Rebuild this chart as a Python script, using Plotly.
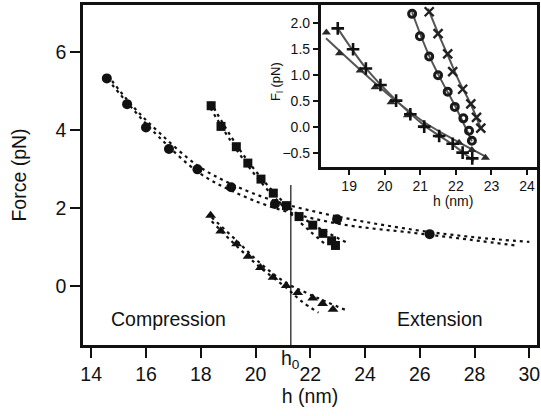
import plotly.graph_objects as go

# ---------------- data ----------------
# main panel: force vs height
circ_h = [14.57, 15.31, 16.00, 16.84, 17.88, 19.11, 20.71, 22.98, 26.36]
circ_f = [5.32, 4.66, 4.06, 3.51, 2.99, 2.53, 2.10, 1.71, 1.33]
sq_h = [18.38, 18.74, 19.30, 19.72, 20.20, 20.65, 21.13, 21.59, 22.09, 22.46, 22.78, 22.92]
sq_f = [4.62, 4.09, 3.57, 3.15, 2.74, 2.38, 2.06, 1.78, 1.56, 1.35, 1.16, 1.04]
tri_h = [18.36, 18.73, 19.31, 19.73, 20.18, 20.64, 21.12, 21.54, 22.09, 22.45, 22.83]
tri_f = [1.81, 1.41, 1.08, 0.76, 0.47, 0.22, 0.01, -0.17, -0.31, -0.45, -0.60]

# dashed fit curves (two per series)
circ_fitA_h = [14.6, 15.5, 16.5, 17.9, 19.1, 20.7, 23.0, 25.8, 28.0, 30.0]
circ_fitA_f = [5.40, 4.62, 3.92, 3.08, 2.62, 2.18, 1.78, 1.44, 1.25, 1.13]
circ_fitB_h = [14.6, 15.5, 16.5, 17.9, 19.1, 20.7, 23.0, 25.8, 27.8, 29.6]
circ_fitB_f = [5.30, 4.55, 3.80, 2.92, 2.45, 2.00, 1.60, 1.36, 1.19, 1.03]
sq_fitA_h = [18.35, 19.3, 20.2, 21.1, 22.0, 23.4]
sq_fitA_f = [4.72, 3.62, 2.78, 2.10, 1.62, 1.09]
sq_fitB_h = [18.35, 19.3, 20.2, 21.1, 22.0, 22.6]
sq_fitB_f = [4.56, 3.50, 2.66, 1.98, 1.40, 1.04]
tri_fitA_h = [18.4, 19.3, 20.2, 21.1, 22.0, 23.35]
tri_fitA_f = [1.76, 1.17, 0.57, 0.09, -0.22, -0.63]
tri_fitB_h = [18.4, 19.3, 20.2, 21.1, 21.7, 22.3]
tri_fitB_f = [1.66, 1.03, 0.46, -0.03, -0.40, -0.68]

h0 = 21.29
h0_line_top = 2.59

# inset: F_l vs h
plus_h = [18.68, 19.11, 19.47, 19.88, 20.32, 20.72, 21.11, 21.53, 21.91, 22.19, 22.46]
plus_f = [1.89, 1.49, 1.12, 0.80, 0.50, 0.24, 0.00, -0.18, -0.33, -0.50, -0.61]
ring_h = [20.77, 20.99, 21.25, 21.50, 21.77, 21.97, 22.21, 22.37, 22.45]
ring_f = [2.17, 1.74, 1.35, 0.99, 0.67, 0.38, 0.16, -0.08, -0.27]
xm_h = [21.25, 21.50, 21.77, 21.91, 22.19, 22.42, 22.58, 22.70]
xm_f = [2.21, 1.79, 1.40, 1.06, 0.72, 0.44, 0.18, -0.03]

in_tri_fit_h = [18.35, 19.3, 20.2, 21.1, 22.0, 22.85]
in_tri_fit_f = [1.70, 1.10, 0.56, 0.09, -0.27, -0.58]
in_plus_fit_h = [18.68, 19.5, 20.3, 21.1, 21.9, 22.5]
in_plus_fit_f = [1.89, 1.10, 0.52, 0.03, -0.34, -0.66]
in_ring_fit_h = [20.77, 21.2, 21.6, 22.0, 22.45]
in_ring_fit_f = [2.20, 1.44, 0.88, 0.37, -0.28]
in_xm_fit_h = [21.22, 21.5, 21.8, 22.1, 22.4, 22.72]
in_xm_fit_f = [2.27, 1.80, 1.33, 0.86, 0.46, -0.06]

x_ticks = [14, 16, 18, 20, 22, 24, 26, 28, 30]
y_ticks = [0, 2, 4, 6]
in_x_ticks = [19, 20, 21, 22, 23, 24]
in_y_ticks = [-0.5, 0.0, 0.5, 1.0, 1.5, 2.0]

# ---------------- figure ----------------
FONT = "Liberation Sans, Arial, Helvetica, sans-serif"
INK = "#111111"
fig = go.Figure()

dash_style = dict(color=INK, width=2.2, dash="3px,4px")
for hx, fy in [(circ_fitA_h, circ_fitA_f), (circ_fitB_h, circ_fitB_f),
               (sq_fitA_h, sq_fitA_f), (sq_fitB_h, sq_fitB_f),
               (tri_fitA_h, tri_fitA_f), (tri_fitB_h, tri_fitB_f)]:
    fig.add_trace(go.Scatter(x=hx, y=fy, mode="lines", line_shape="spline",
                             line=dash_style, showlegend=False, hoverinfo="skip"))

fig.add_trace(go.Scatter(x=circ_h, y=circ_f, mode="markers",
                         marker=dict(symbol="circle", size=10, color=INK), showlegend=False))
fig.add_trace(go.Scatter(x=sq_h, y=sq_f, mode="markers",
                         marker=dict(symbol="square", size=9, color=INK), showlegend=False))
fig.add_trace(go.Scatter(x=tri_h, y=tri_f, mode="markers",
                         marker=dict(symbol="triangle-up", size=9.5, color=INK), showlegend=False))

# inset
FIT = "#555555"
for hx, fy in [(in_tri_fit_h, in_tri_fit_f), (in_plus_fit_h, in_plus_fit_f),
               (in_ring_fit_h, in_ring_fit_f), (in_xm_fit_h, in_xm_fit_f)]:
    fig.add_trace(go.Scatter(x=hx, y=fy, mode="lines", line_shape="spline",
                             line=dict(color=FIT, width=2), xaxis="x2", yaxis="y2",
                             showlegend=False, hoverinfo="skip"))
fig.add_trace(go.Scatter(x=tri_h, y=tri_f, mode="markers", xaxis="x2", yaxis="y2",
                         marker=dict(symbol="triangle-up", size=8, color="#2a2a2a"), showlegend=False))
fig.add_trace(go.Scatter(x=plus_h, y=plus_f, mode="markers", xaxis="x2", yaxis="y2",
                         marker=dict(symbol="cross-thin-open", size=9, color=INK,
                                     line=dict(color=INK, width=2.6)),
                         showlegend=False))
fig.add_trace(go.Scatter(x=ring_h, y=ring_f, mode="markers", xaxis="x2", yaxis="y2",
                         marker=dict(symbol="circle-open", size=7, color="#1a1a1a",
                                     line=dict(color="#1a1a1a", width=3)),
                         showlegend=False))
fig.add_trace(go.Scatter(x=xm_h, y=xm_f, mode="markers", xaxis="x2", yaxis="y2",
                         marker=dict(symbol="x-thin-open", size=9, color="#222222",
                                     line=dict(color="#222222", width=2.4)),
                         showlegend=False))

L, R, T, B = 82.5, 3.5, 5, 71
W, H = 541, 416
pw, ph = W - L - R, H - T - B
in_left_px, in_bottom_px = 320.7, 166.7
in_dx0 = (in_left_px - L) / pw
in_dy0 = (H - B - in_bottom_px) / ph

def px_x(p):
    return (p - L) / pw

def px_y(p):
    return (H - B - p) / ph

axis_common = dict(showgrid=False, zeroline=False, showline=True, linecolor=INK,
                   linewidth=2.6, mirror=True, ticks="outside", tickcolor=INK,
                   tickwidth=2.4, automargin=False, ticklabeloverflow="allow")

fig.update_layout(
    width=W, height=H,
    margin=dict(l=L, r=R, t=T, b=B, autoexpand=False),
    paper_bgcolor="white", plot_bgcolor="white",
    font=dict(family=FONT, color=INK, size=19.5),
    xaxis=dict(range=[13.70, 30.28], tickvals=x_ticks, ticklen=10,
               title=dict(text="h (nm)", standoff=6, font=dict(size=19.5)),
               **axis_common),
    yaxis=dict(range=[-1.51, 7.2], tickvals=y_ticks, ticklen=10,
               title=dict(text="Force (pN)", standoff=24, font=dict(size=19.5)),
               **axis_common),
    xaxis2=dict(domain=[in_dx0, 1.0], anchor="y2", range=[18.20, 24.28],
                tickvals=in_x_ticks, ticklen=5, tickfont=dict(size=14),
                **axis_common),
    yaxis2=dict(domain=[in_dy0, 1.0], anchor="x2", range=[-0.77, 2.34],
                tickvals=in_y_ticks, tickformat=".1f", ticklen=5, tickfont=dict(size=14),
                **axis_common),
    shapes=[dict(type="line", xref="x", yref="y", x0=h0, x1=h0, y0=-1.51, y1=h0_line_top,
                 line=dict(color=INK, width=1.2))],
    annotations=[
        dict(text="Compression", x=16.82, y=-0.85, xref="x", yref="y", showarrow=False,
             font=dict(size=19.5), xanchor="center", yanchor="middle"),
        dict(text="Extension", x=26.74, y=-0.85, xref="x", yref="y", showarrow=False,
             font=dict(size=19.5), xanchor="center", yanchor="middle"),
        dict(text="h<sub>0</sub>", x=h0, y=0, xref="x", yref="paper", showarrow=False,
             font=dict(size=19.5), xanchor="center", yanchor="top", yshift=0),
        dict(text="F<sub>l</sub> (pN)", x=px_x(277), y=px_y(82),
             xref="paper", yref="paper", showarrow=False, textangle=-90,
             font=dict(size=13), xanchor="center", yanchor="middle"),
        dict(text="h (nm)", x=px_x(453), y=px_y(201),
             xref="paper", yref="paper", showarrow=False,
             font=dict(size=14), xanchor="center", yanchor="middle"),
    ],
)

fig.write_html("out.html", config={"displayModeBar": False},
               post_script="document.body.style.margin='0';document.body.style.overflow='hidden';")
